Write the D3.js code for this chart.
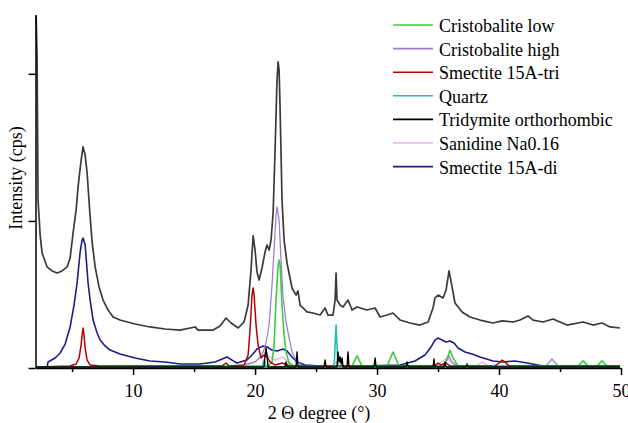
<!DOCTYPE html>
<html>
<head>
<meta charset="utf-8">
<script src="https://cdn.jsdelivr.net/npm/d3@7"></script>
<style>
  body { margin: 0; background: #fff; }
</style>
</head>
<body>
<div id="chart"></div>
<script>
// XRD pattern: [2theta, intensity]
const measured = [
  [2.05, 2400], [2.13, 2094], [2.21, 1142], [2.38, 904], [2.54, 782], [2.95, 687],
  [3.36, 660], [3.77, 646], [4.18, 660], [4.59, 687], [4.84, 748], [5.08, 918],
  [5.33, 1074], [5.49, 1231], [5.74, 1414], [5.90, 1503], [6.07, 1448], [6.23, 1326],
  [6.48, 1027], [6.64, 857], [6.89, 687], [7.21, 551], [7.54, 462], [7.95, 394],
  [8.36, 347], [8.93, 326], [10.16, 299], [11.39, 279], [12.62, 265], [13.85, 258],
  [15.08, 279], [15.33, 258], [16.56, 258], [17.13, 286], [17.62, 340], [18.03, 306],
  [18.61, 272], [19.10, 313], [19.43, 428], [19.67, 666], [19.84, 898], [20.00, 802],
  [20.16, 653], [20.33, 598], [20.57, 680], [20.82, 789], [20.98, 836], [21.15, 802],
  [21.31, 870], [21.48, 1054], [21.64, 1482], [21.80, 1958], [21.89, 2081], [21.97, 2026],
  [22.05, 1775], [22.21, 1142], [22.38, 870], [22.62, 714], [23.03, 544], [23.36, 496],
  [23.52, 524], [23.69, 428], [24.26, 381], [24.75, 374], [25.33, 360], [25.74, 408],
  [25.98, 360], [26.39, 360], [26.56, 462], [26.64, 646], [26.72, 462], [26.97, 428],
  [27.21, 415], [27.62, 462], [27.95, 394], [28.36, 415], [29.18, 394], [29.84, 408],
  [30.25, 347], [30.82, 360], [31.31, 374], [31.89, 326], [32.70, 306], [33.52, 292],
  [34.18, 313], [34.59, 408], [34.75, 476], [35.00, 496], [35.41, 476], [35.66, 530],
  [35.90, 660], [36.15, 551], [36.39, 442], [36.97, 381], [37.62, 347], [38.44, 326],
  [39.51, 306], [40.25, 320], [41.15, 313], [41.72, 326], [42.38, 354], [42.79, 326],
  [43.61, 313], [44.43, 333], [45.57, 292], [46.89, 313], [47.70, 292], [48.44, 306],
  [49.10, 279], [49.92, 272]
];

const smectiteDi = [
  [2.05, 7], [2.95, 7], [3.03, 41], [3.61, 68], [4.02, 102], [4.43, 163], [4.84, 279],
  [5.16, 428], [5.41, 578], [5.66, 789], [5.82, 870], [5.90, 884], [6.07, 836],
  [6.31, 578], [6.48, 462], [6.72, 326], [7.05, 238], [7.30, 190], [7.70, 150],
  [8.11, 122], [8.93, 95], [10.16, 68], [11.39, 48], [12.62, 41], [13.85, 27],
  [15.49, 27], [16.72, 41], [17.30, 61], [17.70, 75], [18.11, 54], [18.52, 34],
  [19.34, 54], [19.75, 88], [20.16, 129], [20.66, 150], [20.98, 143], [21.39, 122],
  [21.80, 116], [22.30, 129], [22.62, 116], [23.03, 75], [23.44, 41], [24.10, 20],
  [25.33, 14], [28.61, 14], [31.89, 20], [33.11, 48], [33.93, 88], [34.43, 143],
  [34.75, 190], [35.00, 204], [35.33, 190], [35.66, 177], [35.98, 184], [36.31, 170],
  [36.64, 136], [37.21, 109], [37.79, 95], [38.44, 75], [39.51, 48], [40.33, 41],
  [41.31, 48], [42.30, 34], [43.61, 14], [49.92, 14]
];

const smectiteTri = [
  [2.05, 7], [4.84, 14], [5.33, 27], [5.57, 68], [5.74, 156], [5.82, 224], [5.90, 272],
  [5.98, 224], [6.07, 136], [6.23, 54], [6.48, 20], [7.30, 14], [17.30, 14], [17.62, 34],
  [17.87, 14], [19.10, 20], [19.43, 88], [19.59, 258], [19.75, 496], [19.84, 544],
  [19.92, 496], [20.08, 292], [20.25, 156], [20.49, 68], [20.74, 88], [20.98, 75],
  [21.23, 41], [21.64, 20], [22.21, 34], [22.87, 14], [34.75, 14], [35.00, 34],
  [35.25, 20], [35.66, 34], [35.98, 14], [39.67, 14], [40.00, 34], [40.25, 54],
  [40.49, 41], [40.82, 14], [49.92, 14]
];

const cristHigh = [
  [2.05, 7], [18.77, 14], [20.00, 41], [20.57, 88], [20.90, 170], [21.15, 292],
  [21.39, 564], [21.56, 802], [21.72, 1040], [21.80, 1095], [21.97, 1006], [22.13, 734],
  [22.30, 483], [22.54, 313], [22.79, 204], [23.03, 109], [23.44, 41], [23.93, 14],
  [35.16, 14], [35.66, 41], [35.90, 82], [36.15, 41], [36.56, 14], [43.85, 14],
  [44.34, 61], [44.84, 14], [49.92, 14]
];

const cristLow = [
  [2.05, 7], [21.07, 14], [21.39, 41], [21.56, 156], [21.72, 462], [21.89, 700],
  [21.97, 734], [22.05, 700], [22.21, 428], [22.38, 224], [22.54, 109], [22.79, 34],
  [23.11, 14], [27.95, 14], [28.36, 82], [28.77, 14], [30.82, 14], [31.31, 109],
  [31.80, 14], [35.49, 14], [35.82, 82], [35.98, 122], [36.23, 68], [36.64, 14],
  [46.48, 14], [46.89, 48], [47.30, 14], [48.03, 14], [48.44, 48], [48.85, 14],
  [49.92, 14]
];

const quartz = [
  [2.05, 7], [20.57, 7], [20.74, 54], [20.90, 7], [26.48, 7], [26.56, 156],
  [26.64, 292], [26.72, 156], [26.80, 7], [39.43, 7], [39.51, 20], [39.59, 7], [49.92, 7]
];

const tridymite = [
  [2.05, 7], [20.74, 7], [20.82, 88], [20.90, 136], [20.98, 88], [21.07, 7],
  [22.46, 7], [22.54, 41], [22.62, 7], [23.36, 7], [23.44, 109], [23.52, 7],
  [25.66, 7], [25.74, 54], [25.82, 7], [26.72, 7], [26.80, 109], [26.89, 41],
  [26.97, 75], [27.05, 27], [27.13, 68], [27.21, 7], [27.54, 7], [27.62, 109],
  [27.70, 7], [29.75, 7], [29.84, 68], [29.92, 7], [32.38, 7], [32.46, 41],
  [32.54, 7], [34.59, 7], [34.67, 61], [34.75, 7], [35.49, 7], [35.57, 41],
  [35.66, 7], [37.30, 7], [37.38, 27], [37.46, 7], [49.92, 7]
];

const sanidine = [
  [2.05, 5], [18.77, 5], [20.00, 41], [20.57, 82], [20.90, 88], [21.23, 75],
  [21.64, 54], [22.30, 75], [22.70, 41], [23.28, 14], [26.15, 5], [26.64, 41],
  [26.97, 5], [34.75, 5], [35.25, 41], [35.74, 68], [36.15, 34], [36.64, 5],
  [38.03, 5], [38.61, 41], [39.26, 5], [49.92, 5]
];

const xTicks = [10, 20, 30, 40, 50];
const xMinor = [5, 15, 25, 35, 45];
const yTicks = [0, 1000, 2000];

const legendItems = [
  { name: "Cristobalite low", color: "#3ccc3c", width: 1.6 },
  { name: "Cristobalite high", color: "#a07fd0", width: 1.3 },
  { name: "Smectite 15A-tri", color: "#b40000", width: 1.5 },
  { name: "Quartz", color: "#22bcbc", width: 1.6 },
  { name: "Tridymite orthorhombic", color: "#000000", width: 1.4 },
  { name: "Sanidine Na0.16", color: "#e6b0e6", width: 1.3 },
  { name: "Smectite 15A-di", color: "#1c1c8c", width: 1.6 }
];

const FONT = "'Liberation Serif', 'Times New Roman', 'DejaVu Serif', serif";

const W = 628, H = 423;
const svg = d3.select("#chart").append("svg")
  .attr("width", W)
  .attr("height", H)
  .attr("font-family", FONT);

const x = d3.scaleLinear().domain([2, 50]).range([35.5, 621]);
const y = d3.scaleLinear().domain([0, 2400]).range([368, 15]);

const line = d3.line()
  .x(d => x(d[0]))
  .y(d => y(d[1]));

// measured pattern
svg.append("path")
  .datum(measured)
  .attr("fill", "none")
  .attr("stroke", "#3a3a3a")
  .attr("stroke-width", 1.7)
  .attr("stroke-linejoin", "round")
  .attr("d", line);

// reference patterns, drawn bottom to top
const drawOrder = [
  [smectiteDi, 6], [sanidine, 5], [cristHigh, 1], [cristLow, 0],
  [smectiteTri, 2], [quartz, 3], [tridymite, 4]
];
drawOrder.forEach(([data, i]) => {
  svg.append("path")
    .datum(data)
    .attr("fill", "none")
    .attr("stroke", legendItems[i].color)
    .attr("stroke-width", legendItems[i].width)
    .attr("stroke-linejoin", "round")
    .attr("d", line);
});

// axes
const xAxis = svg.append("g")
  .attr("transform", "translate(0,368)")
  .call(d3.axisBottom(x).tickValues(xTicks).tickSize(7).tickSizeOuter(0).tickPadding(9));
xAxis.attr("font-family", FONT).attr("font-size", 18);
xAxis.select(".domain").attr("stroke", "#000").attr("stroke-width", 1.5);
xAxis.selectAll(".tick line").attr("stroke-width", 1.5);
xAxis.selectAll(".tick text")
  .style("font-family", FONT)
  .style("font-size", "18px")
  .attr("fill", "#000");

svg.append("g")
  .attr("transform", "translate(0,368)")
  .call(d3.axisBottom(x).tickValues(xMinor).tickSize(4).tickFormat(""))
  .call(g => g.select(".domain").remove())
  .selectAll(".tick line").attr("stroke-width", 1.5);

const yAxis = svg.append("g")
  .attr("transform", "translate(35.5,0)")
  .call(d3.axisLeft(y).tickValues(yTicks).tickSize(7).tickSizeOuter(0).tickFormat(""));
yAxis.select(".domain").attr("stroke-width", 1.5);
yAxis.selectAll(".tick line").attr("stroke-width", 1.5);

// axis titles
svg.append("text")
  .attr("x", 319)
  .attr("y", 419)
  .attr("text-anchor", "middle")
  .style("font-family", FONT)
  .style("font-size", "18px")
  .text("2 Θ degree (°)");

svg.append("text")
  .attr("transform", "translate(22,178) rotate(-90)")
  .attr("text-anchor", "middle")
  .style("font-family", FONT)
  .style("font-size", "18px")
  .text("Intensity (cps)");

// legend
const legend = svg.append("g");
legendItems.forEach((d, i) => {
  const ly = 25 + i * 23.6;
  legend.append("line")
    .attr("x1", 393).attr("x2", 433)
    .attr("y1", ly).attr("y2", ly)
    .attr("stroke", d.color)
    .attr("stroke-width", 1.6);
  legend.append("text")
    .attr("x", 439)
    .attr("y", ly + 7)
    .style("font-family", FONT)
    .style("font-size", "18px")
    .text(d.name);
});
</script>
</body>
</html>
